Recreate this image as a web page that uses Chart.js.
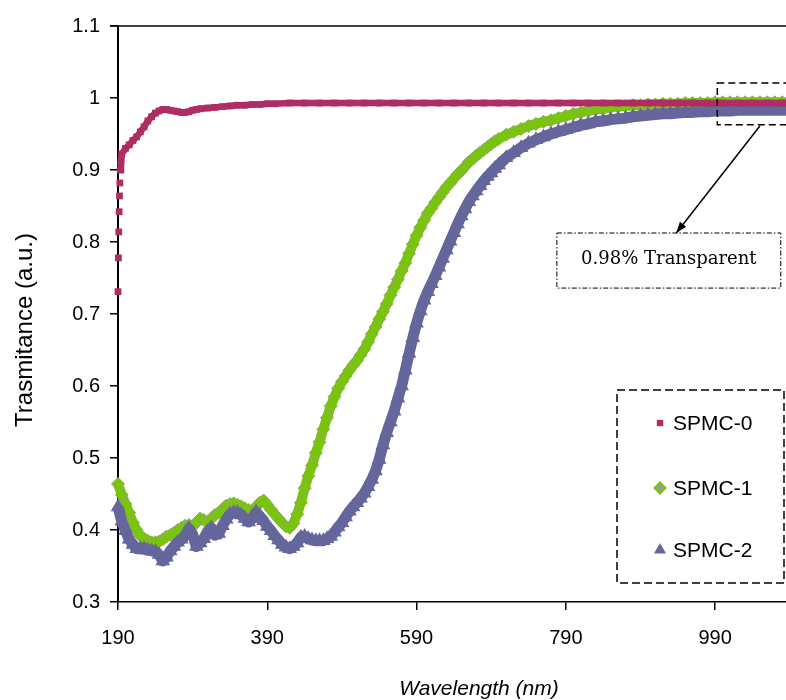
<!DOCTYPE html>
<html>
<head>
<meta charset="utf-8">
<script src="https://cdn.jsdelivr.net/npm/chart.js@4.4.1/dist/chart.umd.min.js"></script>
<style>
  html, body { margin: 0; padding: 0; background: #fff; }
  #wrap { width: 786px; height: 700px; }
</style>
</head>
<body>
<div id="wrap"><canvas id="chart" width="786" height="700"></canvas></div>
<script>
// shared wavelength grid for SPMC-1 / SPMC-2 (nm)
const wavelength = [
  190, 195, 200, 205, 210, 215, 220, 225, 230, 235,
  240, 245, 250, 255, 260, 265, 270, 275, 280, 285,
  290, 295, 300, 305, 310, 315, 320, 325, 330, 335,
  340, 345, 350, 355, 360, 365, 370, 375, 380, 385,
  390, 395, 400, 405, 410, 415, 420, 425, 430, 435,
  440, 445, 450, 455, 460, 465, 470, 475, 480, 485,
  490, 495, 500, 505, 510, 515, 520, 525, 530, 535,
  540, 545, 550, 555, 560, 565, 570, 575, 580, 585,
  590, 595, 600, 605, 610, 615, 620, 625, 630, 635,
  640, 645, 650, 655, 660, 665, 670, 675, 680, 685,
  690, 695, 700,
  710, 720, 730, 740, 750, 760, 770, 780, 790, 800,
  810, 820, 830, 840, 850, 860, 870, 880, 890, 900,
  910, 920, 930, 940, 950, 960, 970, 980, 990, 1000,
  1010, 1020, 1030, 1040, 1050, 1060, 1070, 1080, 1090,
];

const spmc1 = [
  0.464, 0.449, 0.436, 0.424, 0.410, 0.400, 0.392, 0.388, 0.385, 0.383,
  0.383, 0.384, 0.387, 0.391, 0.393, 0.396, 0.400, 0.403, 0.406, 0.407,
  0.406, 0.410, 0.416, 0.414, 0.411, 0.416, 0.421, 0.424, 0.429, 0.434,
  0.436, 0.437, 0.435, 0.433, 0.430, 0.428, 0.427, 0.432, 0.438, 0.441,
  0.435, 0.428, 0.422, 0.416, 0.410, 0.405, 0.403, 0.409, 0.422, 0.438,
  0.458, 0.475, 0.490, 0.507, 0.522, 0.540, 0.556, 0.572, 0.585, 0.597,
  0.606, 0.614, 0.622, 0.629, 0.635, 0.643, 0.651, 0.661, 0.672, 0.682,
  0.693, 0.703, 0.714, 0.726, 0.737, 0.748, 0.760, 0.771, 0.784, 0.797,
  0.809, 0.820, 0.830, 0.840, 0.847, 0.855, 0.862, 0.869, 0.876, 0.882,
  0.888, 0.894, 0.899, 0.905, 0.911, 0.915, 0.920, 0.924, 0.928, 0.932,
  0.936, 0.940, 0.943,
  0.949, 0.953, 0.957, 0.961, 0.964, 0.967, 0.969, 0.972, 0.975, 0.978,
  0.980, 0.982, 0.984, 0.985, 0.987, 0.988, 0.989, 0.990, 0.990, 0.991,
  0.991, 0.992, 0.992, 0.992, 0.993, 0.993, 0.993, 0.993, 0.994, 0.994,
  0.994, 0.994, 0.994, 0.994, 0.994, 0.994, 0.994, 0.994, 0.994,
];

const spmc2 = [
  0.432, 0.412, 0.399, 0.387, 0.380, 0.374, 0.374, 0.374, 0.372, 0.371,
  0.370, 0.366, 0.357, 0.362, 0.371, 0.377, 0.383, 0.387, 0.392, 0.402,
  0.394, 0.377, 0.382, 0.388, 0.398, 0.403, 0.393, 0.395, 0.406, 0.415,
  0.422, 0.424, 0.424, 0.421, 0.416, 0.411, 0.416, 0.425, 0.419, 0.413,
  0.405, 0.399, 0.392, 0.386, 0.380, 0.376, 0.374, 0.377, 0.382, 0.390,
  0.391, 0.388, 0.386, 0.385, 0.385, 0.385, 0.388, 0.391, 0.397, 0.404,
  0.410, 0.418, 0.426, 0.432, 0.438, 0.444, 0.451, 0.460, 0.470, 0.482,
  0.498, 0.518, 0.535, 0.550, 0.565, 0.583, 0.600, 0.622, 0.645, 0.667,
  0.687, 0.704, 0.719, 0.731, 0.742, 0.753, 0.765, 0.777, 0.789, 0.801,
  0.813, 0.825, 0.836, 0.846, 0.856, 0.864, 0.871, 0.878, 0.885, 0.891,
  0.896, 0.902, 0.907,
  0.917, 0.924, 0.931, 0.937, 0.942, 0.946, 0.950, 0.953, 0.956, 0.959,
  0.962, 0.964, 0.967, 0.968, 0.970, 0.971, 0.972, 0.974, 0.975, 0.976,
  0.977, 0.978, 0.978, 0.979, 0.980, 0.980, 0.981, 0.981, 0.982, 0.982,
  0.982, 0.983, 0.983, 0.983, 0.983, 0.983, 0.983, 0.983, 0.983,
];

// SPMC-0 has its own grid: dense at the steep start, sparse on the plateau
const wl0 = [
  190, 190.5, 191, 191.5, 192, 192.5, 193, 194, 195, 200,
  205, 210, 215, 220, 225, 230, 235, 240, 245, 250,
  255, 260, 265, 270, 275, 280, 285, 290, 295, 300,
  310, 320, 330, 340, 350, 360, 370, 380, 390, 400,
  420, 440, 460, 480, 500, 520, 540, 560, 580, 600,
  620, 640, 660, 680, 700, 720, 740, 760, 780, 800,
  820, 840, 860, 880, 900, 920, 940, 960, 980, 1000,
  1020, 1040, 1060, 1080, 1090,
];

const spmc0 = [
  0.731, 0.778, 0.814, 0.842, 0.864, 0.882, 0.900, 0.912, 0.922, 0.930,
  0.935, 0.941, 0.946, 0.953, 0.960, 0.968, 0.974, 0.979, 0.982, 0.984,
  0.984, 0.983, 0.982, 0.981, 0.980, 0.980, 0.981, 0.983, 0.984, 0.985,
  0.986, 0.987, 0.988, 0.989, 0.990, 0.990, 0.991, 0.991, 0.992, 0.992,
  0.993, 0.993, 0.993, 0.993, 0.993, 0.993, 0.993, 0.993, 0.993, 0.993,
  0.993, 0.993, 0.993, 0.993, 0.993, 0.993, 0.993, 0.993, 0.993, 0.993,
  0.993, 0.993, 0.993, 0.993, 0.993, 0.993, 0.993, 0.993, 0.993, 0.993,
  0.993, 0.993, 0.993, 0.993, 0.993,
];

const seriesNames = ["SPMC-0", "SPMC-1", "SPMC-2"];
const xTicks = [190, 390, 590, 790, 990];
const yTicks = [0.3, 0.4, 0.5, 0.6, 0.7, 0.8, 0.9, 1.0, 1.1];
const noteText = "0.98% Transparent";

const C = {
  s0:     "#AE2E64",
  s1:     "#78C706",
  s1Edge: "#8FAA63",
  s1Key:  "#9A9A9A",
  s2:     "#65669C",
  ink:    "#000",
};
const SANS = "'Liberation Sans', Arial, sans-serif";
const SERIF = "'DejaVu Serif', serif";

const pts = (xs, ys) => xs.map((x, i) => ({ x, y: ys[i] }));

// marker used in the hand-drawn legend box
function marker(ctx, style, x, y, r) {
  ctx.beginPath();
  if (style === "rect") {
    const h = r * Math.SQRT1_2;
    ctx.rect(x - h, y - h, 2 * h, 2 * h);
  } else if (style === "rectRot") {
    ctx.moveTo(x, y - r); ctx.lineTo(x + r, y); ctx.lineTo(x, y + r); ctx.lineTo(x - r, y);
    ctx.closePath();
  } else {
    ctx.moveTo(x, y - r);
    ctx.lineTo(x + r * 0.866, y + r * 0.5);
    ctx.lineTo(x - r * 0.866, y + r * 0.5);
    ctx.closePath();
  }
}

// frame top, axis titles, callout and legend
const decor = {
  id: "decor",
  afterDraw(chart) {
    const { ctx, chartArea: a, scales: { x, y } } = chart;
    ctx.save();

    // top frame line
    ctx.strokeStyle = C.ink;
    ctx.lineWidth = 1.5;
    ctx.beginPath();
    ctx.moveTo(a.left - 8, a.top);
    ctx.lineTo(a.right, a.top);
    ctx.stroke();

    // axis titles
    ctx.fillStyle = C.ink;
    ctx.textAlign = "center";
    ctx.textBaseline = "middle";
    ctx.font = `italic 21px ${SANS}`;
    ctx.fillText("Wavelength (nm)", (a.left + a.right) / 2 + 27, 689);
    ctx.save();
    ctx.translate(25, (a.top + a.bottom) / 2 + 16);
    ctx.rotate(-Math.PI / 2);
    ctx.font = `24px ${SANS}`;
    ctx.fillText("Trasmitance (a.u.)", 0, 0);
    ctx.restore();

    // dashed box around the plateau
    const bx0 = x.getPixelForValue(993), bx1 = x.getPixelForValue(1100);
    const by0 = y.getPixelForValue(1.021), by1 = y.getPixelForValue(0.963);
    ctx.lineWidth = 1.5;
    ctx.setLineDash([7, 4]);
    ctx.strokeRect(bx0, by0, bx1 - bx0, by1 - by0);
    ctx.setLineDash([]);

    // arrow down to the note
    const ax0 = x.getPixelForValue(1050), ay0 = y.getPixelForValue(0.961);
    const ax1 = x.getPixelForValue(938), ay1 = y.getPixelForValue(0.8125);
    ctx.beginPath();
    ctx.moveTo(ax0, ay0);
    ctx.lineTo(ax1, ay1);
    ctx.stroke();
    const ang = Math.atan2(ay1 - ay0, ax1 - ax0);
    ctx.beginPath();
    ctx.moveTo(ax1, ay1);
    ctx.lineTo(ax1 - 11 * Math.cos(ang) + 4 * Math.sin(ang), ay1 - 11 * Math.sin(ang) - 4 * Math.cos(ang));
    ctx.lineTo(ax1 - 11 * Math.cos(ang) - 4 * Math.sin(ang), ay1 - 11 * Math.sin(ang) + 4 * Math.cos(ang));
    ctx.closePath();
    ctx.fill();

    // note box (dash-dot)
    const nx0 = x.getPixelForValue(778), nx1 = x.getPixelForValue(1078);
    const ny0 = y.getPixelForValue(0.8125), ny1 = y.getPixelForValue(0.736);
    ctx.lineWidth = 1;
    ctx.setLineDash([5, 2, 1.5, 2]);
    ctx.strokeRect(nx0, ny0, nx1 - nx0, ny1 - ny0);
    ctx.setLineDash([]);
    ctx.font = `18px ${SERIF}`;
    ctx.textBaseline = "alphabetic";
    ctx.fillText(noteText, (nx0 + nx1) / 2, (ny0 + ny1) / 2 + 3);

    // legend box
    const lx0 = a.right - 169, lx1 = a.right - 2;
    const ly0 = a.bottom - 212, ly1 = a.bottom - 19;
    ctx.lineWidth = 1.5;
    ctx.setLineDash([8, 4]);
    ctx.strokeRect(lx0, ly0, lx1 - lx0, ly1 - ly0);
    ctx.setLineDash([]);
    const rows = [ly0 + 33, ly0 + 98, ly0 + 160];
    const keys = [
      { style: "rect", r: 4.5, fill: C.s0, edge: null },
      { style: "rectRot", r: 5.5, fill: C.s1Key, edge: C.s1 },
      { style: "triangle", r: 7, fill: C.s2, edge: null },
    ];
    ctx.font = `21px ${SANS}`;
    ctx.textAlign = "left";
    ctx.textBaseline = "middle";
    keys.forEach((k, i) => {
      const mx = lx0 + 43, my = rows[i];
      marker(ctx, k.style, mx, my, k.r);
      ctx.fillStyle = k.fill;
      ctx.fill();
      if (k.edge) { ctx.strokeStyle = k.edge; ctx.lineWidth = 2; ctx.stroke(); }
      ctx.fillStyle = C.ink;
      ctx.fillText(seriesNames[i], lx0 + 56, my + 1);
    });

    ctx.restore();
  },
};

new Chart(document.getElementById("chart"), {
  type: "scatter",
  data: {
    datasets: [
      {
        label: seriesNames[0],
        data: pts(wl0, spmc0),
        showLine: true,
        borderColor: C.s0,
        borderWidth: 6.5,
        pointStyle: "rect",
        pointRadius: 4.8,
        pointBackgroundColor: C.s0,
        pointBorderWidth: 0,
        segment: { borderColor: c => (c.p1.parsed.x <= 193 ? "rgba(0,0,0,0)" : undefined) },
        clip: false,
        order: 0,
      },
      {
        label: seriesNames[1],
        data: pts(wavelength, spmc1),
        showLine: true,
        borderColor: C.s1,
        borderWidth: 10,
        borderJoinStyle: "round",
        pointStyle: "rectRot",
        pointRadius: 6.5,
        pointBackgroundColor: C.s1,
        pointBorderColor: C.s1Edge,
        pointBorderWidth: 1,
        clip: false,
        order: 2,
      },
      {
        label: seriesNames[2],
        data: pts(wavelength, spmc2),
        showLine: true,
        borderColor: C.s2,
        borderWidth: 11,
        borderJoinStyle: "round",
        pointStyle: "triangle",
        pointRadius: 8.5,
        pointBackgroundColor: C.s2,
        pointBorderWidth: 0,
        clip: false,
        order: 1,
      },
    ],
  },
  options: {
    responsive: false,
    animation: false,
    events: [],
    layout: { autoPadding: false, padding: { top: 26, right: 0, bottom: 0, left: 0 } },
    plugins: {
      legend: { display: false },
      tooltip: { enabled: false },
    },
    scales: {
      x: {
        type: "linear",
        min: 190,
        max: 1085,
        afterBuildTicks: s => { s.ticks = xTicks.map(v => ({ value: v })); },
        afterFit: s => { s.height = 98; s.paddingRight = 0; },
        border: { display: true, color: C.ink, width: 1.5 },
        grid: { display: true, drawOnChartArea: false, drawTicks: true, tickLength: 8, color: C.ink, lineWidth: 1.5 },
        ticks: { color: C.ink, font: { family: SANS, size: 20 }, padding: 16, maxRotation: 0, autoSkip: false },
      },
      y: {
        min: 0.3,
        max: 1.1,
        afterBuildTicks: s => { s.ticks = yTicks.map(v => ({ value: v })); },
        afterFit: s => { s.width = 118; },
        border: { display: true, color: C.ink, width: 2 },
        grid: { display: true, drawOnChartArea: false, drawTicks: true, tickLength: 8, color: C.ink, lineWidth: 1.5 },
        ticks: {
          color: C.ink,
          font: { family: SANS, size: 20 },
          padding: 10,
          autoSkip: false,
          callback: v => String(+Number(v).toFixed(1)),
        },
      },
    },
  },
  plugins: [decor],
});
</script>
</body>
</html>
